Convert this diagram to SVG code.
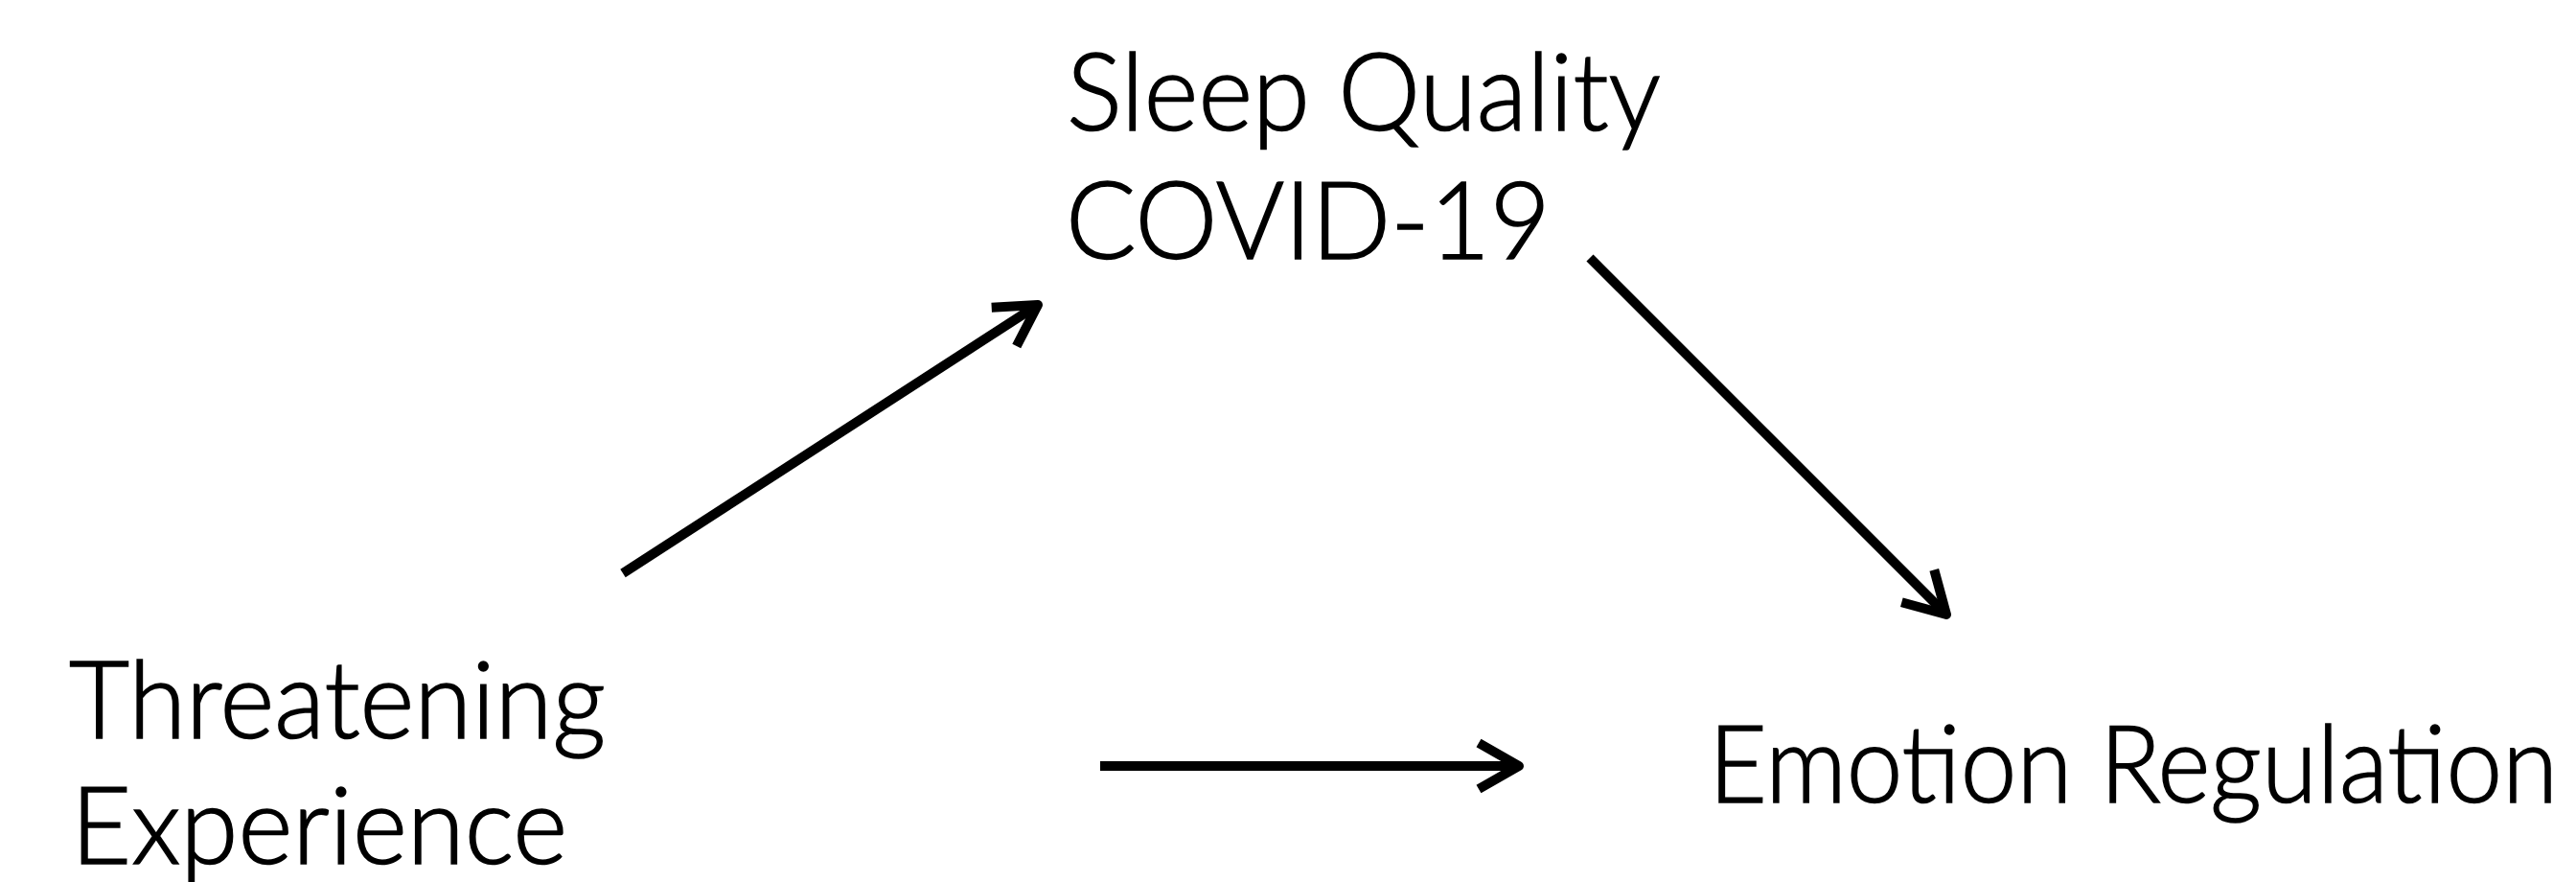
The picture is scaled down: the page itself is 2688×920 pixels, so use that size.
<svg xmlns="http://www.w3.org/2000/svg" width="2688" height="920" viewBox="0 0 2688 920">
  <style>
    .label { font-family: "Lato", "Open Sans", "Liberation Sans", sans-serif; font-weight: 300; font-size: 113px; fill: #000; stroke: #000; stroke-width: 1.6px; }
    .edge { stroke: #000; stroke-width: 10; fill: none; stroke-linecap: butt; }
  </style>
  <defs>
    <marker id="chevron" markerUnits="userSpaceOnUse" viewBox="-50 -30 60 60" markerWidth="60" markerHeight="60" refX="0" refY="0" orient="auto" overflow="visible">
      <path d="M -42 -24 L 0 0 L -42 24" fill="none" stroke="#000" stroke-width="10" stroke-linejoin="round" stroke-linecap="butt"/>
    </marker>
  </defs>
  <rect width="2688" height="920" fill="#fff"/>

  <g id="node-sleep">
    <text class="label" x="1113" y="136" textLength="620" lengthAdjust="spacingAndGlyphs">Sleep Quality</text>
    <text class="label" x="1112" y="270" textLength="506" lengthAdjust="spacingAndGlyphs">COVID-19</text>
  </g>

  <g id="node-threat">
    <text class="label" x="72" y="770" textLength="560" lengthAdjust="spacingAndGlyphs">Threatening</text>
    <text class="label" x="74" y="901" textLength="518" lengthAdjust="spacingAndGlyphs">Experience</text>
  </g>

  <g id="node-emotion">
    <text class="label" x="1783" y="837" textLength="886" lengthAdjust="spacingAndGlyphs">Emotion Regulation</text>
  </g>

  <g id="connectors">
    <line class="edge" x1="650" y1="598" x2="1083" y2="318" marker-end="url(#chevron)"/>
    <line class="edge" x1="1659" y1="269" x2="2031" y2="641" marker-end="url(#chevron)"/>
    <line class="edge" x1="1148" y1="799" x2="1585" y2="799" marker-end="url(#chevron)"/>
  </g>
</svg>
